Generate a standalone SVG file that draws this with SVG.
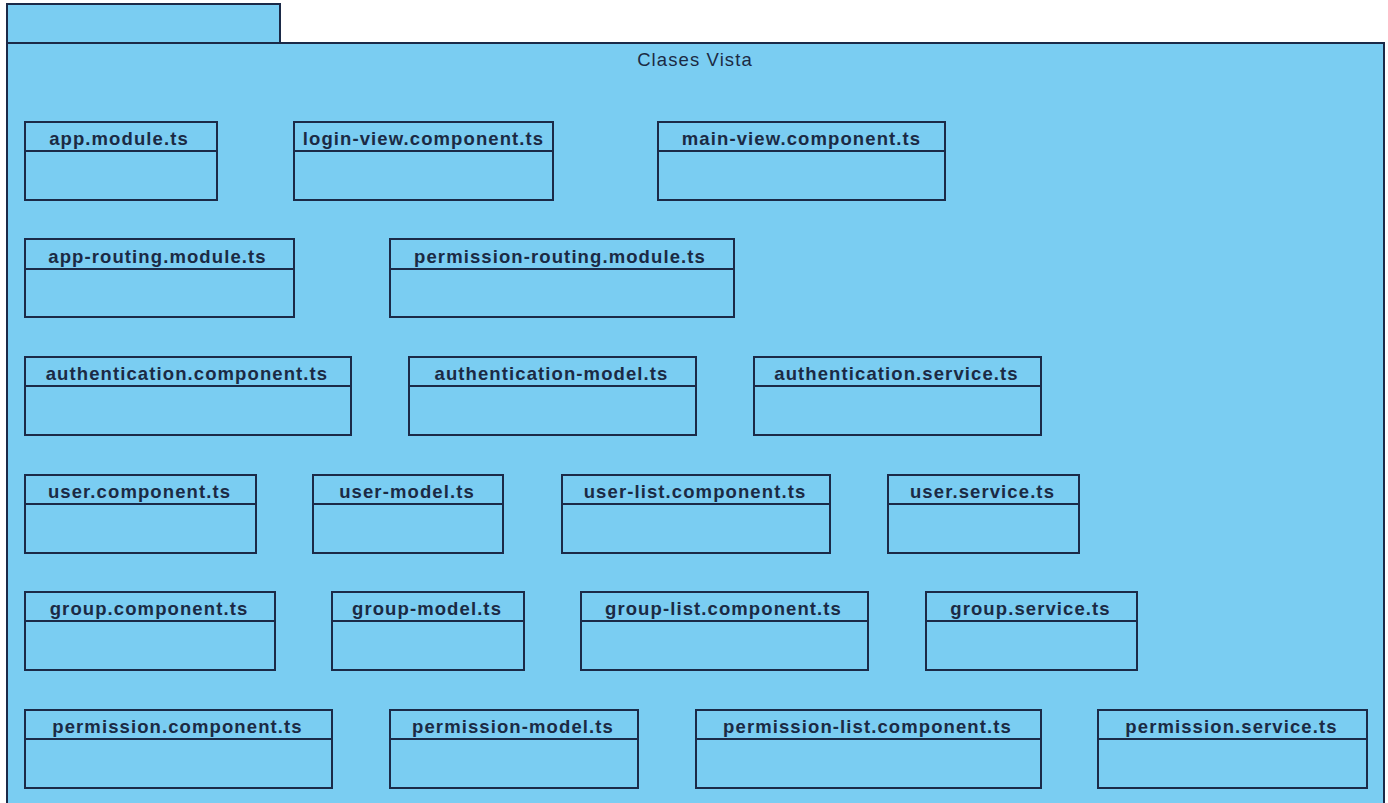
<svg xmlns="http://www.w3.org/2000/svg" width="1388" height="803" viewBox="0 0 1388 803">
  <style>
    .pkg { fill: #7acdf2; stroke: #1b2a48; stroke-width: 2; }
    .cls { fill: #7acdf2; stroke: #1b2a48; stroke-width: 2; }
    .sep { stroke: #1b2a48; stroke-width: 2; }
    .name { font-family: "Liberation Sans", Arial, sans-serif; font-size: 18.5px; letter-spacing: 1.1px; font-weight: bold; fill: #1b2a44; text-anchor: middle; }
    .title { font-family: "Liberation Sans", Arial, sans-serif; font-size: 18.5px; letter-spacing: 1.1px; fill: #1b2a44; text-anchor: middle; }
  </style>
  <rect width="1388" height="803" fill="#ffffff"/>

  <!-- package "Clases Vista" -->
  <g id="package">
    <rect class="pkg" x="7" y="4" width="273" height="39"/>
    <rect class="pkg" x="7" y="43" width="1377" height="770"/>
    <text class="title" x="695" y="66">Clases Vista</text>
  </g>

  <g id="connectors"></g>

  <!-- row 1 -->
  <g id="app-module">
    <rect class="cls" x="25" y="122" width="192" height="78"/>
    <line class="sep" x1="25" y1="151" x2="217" y2="151"/>
    <text class="name" x="119" y="145">app.module.ts</text>
  </g>
  <g id="login-view-component">
    <rect class="cls" x="294" y="122" width="259" height="78"/>
    <line class="sep" x1="294" y1="151" x2="553" y2="151"/>
    <text class="name" x="423.5" y="145">login-view.component.ts</text>
  </g>
  <g id="main-view-component">
    <rect class="cls" x="658" y="122" width="287" height="78"/>
    <line class="sep" x1="658" y1="151" x2="945" y2="151"/>
    <text class="name" x="801.5" y="145">main-view.component.ts</text>
  </g>

  <!-- row 2 -->
  <g id="app-routing-module">
    <rect class="cls" x="25" y="239" width="269" height="78"/>
    <line class="sep" x1="25" y1="269" x2="294" y2="269"/>
    <text class="name" x="157.5" y="263">app-routing.module.ts</text>
  </g>
  <g id="permission-routing-module">
    <rect class="cls" x="390" y="239" width="344" height="78"/>
    <line class="sep" x1="390" y1="269" x2="734" y2="269"/>
    <text class="name" x="560" y="263">permission-routing.module.ts</text>
  </g>

  <!-- row 3 -->
  <g id="authentication-component">
    <rect class="cls" x="25" y="357" width="326" height="78"/>
    <line class="sep" x1="25" y1="386" x2="351" y2="386"/>
    <text class="name" x="187" y="380">authentication.component.ts</text>
  </g>
  <g id="authentication-model">
    <rect class="cls" x="409" y="357" width="287" height="78"/>
    <line class="sep" x1="409" y1="386" x2="696" y2="386"/>
    <text class="name" x="551.5" y="380">authentication-model.ts</text>
  </g>
  <g id="authentication-service">
    <rect class="cls" x="754" y="357" width="287" height="78"/>
    <line class="sep" x1="754" y1="386" x2="1041" y2="386"/>
    <text class="name" x="896.5" y="380">authentication.service.ts</text>
  </g>

  <!-- row 4 -->
  <g id="user-component">
    <rect class="cls" x="25" y="475" width="231" height="78"/>
    <line class="sep" x1="25" y1="504" x2="256" y2="504"/>
    <text class="name" x="139.5" y="498">user.component.ts</text>
  </g>
  <g id="user-model">
    <rect class="cls" x="313" y="475" width="190" height="78"/>
    <line class="sep" x1="313" y1="504" x2="503" y2="504"/>
    <text class="name" x="407" y="498">user-model.ts</text>
  </g>
  <g id="user-list-component">
    <rect class="cls" x="562" y="475" width="268" height="78"/>
    <line class="sep" x1="562" y1="504" x2="830" y2="504"/>
    <text class="name" x="695" y="498">user-list.component.ts</text>
  </g>
  <g id="user-service">
    <rect class="cls" x="888" y="475" width="191" height="78"/>
    <line class="sep" x1="888" y1="504" x2="1079" y2="504"/>
    <text class="name" x="982.5" y="498">user.service.ts</text>
  </g>

  <!-- row 5 -->
  <g id="group-component">
    <rect class="cls" x="25" y="592" width="250" height="78"/>
    <line class="sep" x1="25" y1="621" x2="275" y2="621"/>
    <text class="name" x="149" y="615">group.component.ts</text>
  </g>
  <g id="group-model">
    <rect class="cls" x="332" y="592" width="192" height="78"/>
    <line class="sep" x1="332" y1="621" x2="524" y2="621"/>
    <text class="name" x="427" y="615">group-model.ts</text>
  </g>
  <g id="group-list-component">
    <rect class="cls" x="581" y="592" width="287" height="78"/>
    <line class="sep" x1="581" y1="621" x2="868" y2="621"/>
    <text class="name" x="723.5" y="615">group-list.component.ts</text>
  </g>
  <g id="group-service">
    <rect class="cls" x="926" y="592" width="211" height="78"/>
    <line class="sep" x1="926" y1="621" x2="1137" y2="621"/>
    <text class="name" x="1030.5" y="615">group.service.ts</text>
  </g>

  <!-- row 6 -->
  <g id="permission-component">
    <rect class="cls" x="25" y="710" width="307" height="78"/>
    <line class="sep" x1="25" y1="739" x2="332" y2="739"/>
    <text class="name" x="177.5" y="733">permission.component.ts</text>
  </g>
  <g id="permission-model">
    <rect class="cls" x="390" y="710" width="248" height="78"/>
    <line class="sep" x1="390" y1="739" x2="638" y2="739"/>
    <text class="name" x="513" y="733">permission-model.ts</text>
  </g>
  <g id="permission-list-component">
    <rect class="cls" x="696" y="710" width="345" height="78"/>
    <line class="sep" x1="696" y1="739" x2="1041" y2="739"/>
    <text class="name" x="867.5" y="733">permission-list.component.ts</text>
  </g>
  <g id="permission-service">
    <rect class="cls" x="1098" y="710" width="269" height="78"/>
    <line class="sep" x1="1098" y1="739" x2="1367" y2="739"/>
    <text class="name" x="1231.5" y="733">permission.service.ts</text>
  </g>
</svg>
